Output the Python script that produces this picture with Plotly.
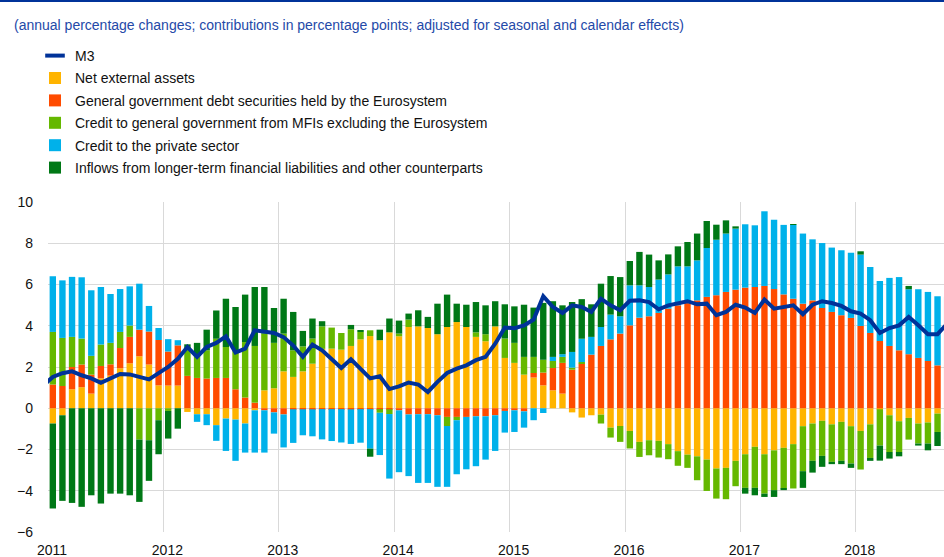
import plotly.graph_objects as go

# monthly observations, Jan 2011 .. Oct 2018 (M3 also has Dec 2010, cut off at the left edge)
first_year, first_month = 2011, 1

m3 = [1.1,  # Dec 2010
      1.52, 1.7, 1.79, 1.6, 1.45, 1.23, 1.42, 1.66, 1.64, 1.5, 1.4, 1.7,
      2.0, 2.4, 2.97, 2.49, 2.97, 3.17, 3.49, 2.7, 2.89, 3.78, 3.73, 3.65,
      3.45, 3.04, 2.49, 3.09, 2.81, 2.36, 1.95, 2.37, 1.9, 1.45, 1.55, 0.93,
      1.06, 1.25, 1.15, 0.79, 1.28, 1.71, 1.92, 2.08, 2.33, 2.49, 3.13, 3.91,
      3.88, 4.02, 4.3, 5.43, 4.91, 4.62, 4.99, 4.91, 4.67, 5.31, 4.99, 4.75,
      5.21, 5.23, 5.15, 4.8, 4.99, 5.07, 5.19, 5.04, 5.07, 4.51, 4.67, 5.02,
      4.88, 4.62, 5.27, 4.83, 4.91, 4.99, 4.56, 5.02, 5.19, 5.1, 4.96, 4.7,
      4.59, 4.27, 3.65, 3.89, 4.02, 4.43, 4.02, 3.59, 3.59, 4.1]

net_external = [-0.74, -0.34, 0.92, 1.02, 0.71, 1.45, 1.58, 1.94, 2.18, 2.52, 2.12, 1.11,
                1.1, 1.1, -0.18, -0.29, -0.29, -0.82, -0.5, -0.55, -0.74, -0.1, 0.87, 0.97,
                1.79, 1.52, 1.79, 2.16, 2.88, 2.89, 2.84, 3.02, 3.34, 3.5, 3.3, 3.68,
                3.49, 3.94, 3.97, 3.89, 3.59, 3.94, 4.18, 3.94, 3.46, 3.25, 3.97, 2.44,
                2.2, 1.63, 1.49, 1.11, 0.87, 0.71, -0.2, -0.45, -0.34, -0.31, -0.94, -0.86,
                -1.1, -1.63, -1.55, -1.58, -1.74, -2.08, -2.25, -2.33, -2.49, -2.92, -2.89, -2.55,
                -2.23, -1.87, -2.23, -2.04, -1.92, -1.74, -0.87, -0.74, -0.61, -0.78, -0.66, -0.87,
                -1.1, -0.78, -0.05, -0.34, -0.63, -0.47, -0.74, -0.69, -0.26, 0.2]

gg_eurosystem = [1.15, 1.08, 1.08, 1.1, 0.92, 0.6, 0.55, 0.98, 1.28, 1.29, 1.6, 2.2,
                 1.65, 1.95, 1.57, 1.47, 1.44, 1.47, 1.47, 0.92, 0.52, 0.27, -0.1, -0.2,
                 -0.3, -0.05, -0.05, -0.05, -0.04, -0.04, -0.04, -0.05, -0.04, -0.04, -0.04, -0.05,
                 -0.1, -0.3, -0.29, -0.29, -0.34, -0.42, -0.42, -0.42, -0.39, -0.39, -0.34, -0.13,
                 -0.1, -0.15, 0.22, 0.62, 1.08, 1.49, 1.87, 2.16, 2.6, 3.02, 3.34, 3.62,
                 4.02, 4.39, 4.46, 4.62, 4.83, 4.99, 5.1, 5.23, 5.4, 5.48, 5.64, 5.75,
                 5.85, 5.88, 5.93, 5.78, 5.52, 5.31, 5.07, 5.23, 4.86, 4.67, 4.51, 4.38,
                 3.99, 3.65, 3.26, 3.02, 2.81, 2.62, 2.44, 2.29, 2.08, 1.9]

gg_mfis = [2.55, 2.33, 1.46, 1.26, 0.91, 1.04, 1.04, 0.78, 0.55, -1.52, -1.55, -0.58,
           -0.13, 0.0, 1.33, 1.1, 1.37, 1.9, 1.5, 1.9, 2.69, 2.75, 2.75, 2.2,
           1.83, 1.29, 1.21, 1.22, 1.09, 1.02, 0.81, 0.81, 0.36, 0.28, -0.18, -0.23,
           0.13, 0.36, 0.0, 0.0, 0.0, -0.44, -0.16, 0.0, 0.22, 0.34, 0.0, 0.94,
           0.97, 0.86, 0.78, 0.62, 0.34, 0.29, 0.1, 0.08, 0.0, -0.43, -0.48, -0.77,
           -0.85, -0.73, -0.73, -0.81, -0.73, -0.71, -0.64, -1.16, -1.52, -1.46, -1.52, -1.23,
           -1.63, -1.99, -1.91, -1.93, -1.97, -2.15, -2.18, -1.81, -1.7, -1.82, -1.89, -1.81,
           -1.87, -1.63, -1.76, -1.78, -1.49, -1.05, -0.97, -1.02, -0.89, -0.7]

private_credit = [2.7, 2.79, 2.91, 2.97, 3.18, 2.79, 2.37, 2.08, 1.9, 2.23, 1.24, 0.58,
                  0.6, 0.25, 0.0, -0.37, -0.53, -0.76, -1.57, -2.0, -1.41, -2.05, -2.05, -1.03,
                  -1.6, -1.63, -1.26, -1.31, -1.47, -1.55, -1.62, -1.68, -1.63, -1.92, -2.05, -3.13,
                  -3.0, -2.99, -3.33, -3.33, -3.47, -2.95, -2.62, -2.54, -2.42, -2.1, -1.73, -1.05,
                  -1.05, -0.79, -0.58, -0.23, 0.2, 0.13, 0.76, 1.13, 0.86, 0.92, 1.2, 0.84,
                  1.94, 1.57, 1.42, 1.62, 1.66, 1.89, 1.78, 1.94, 2.37, 2.69, 2.83, 2.96,
                  3.07, 2.99, 3.62, 3.36, 3.37, 3.58, 3.4, 2.96, 3.15, 3.12, 3.15, 3.16,
                  3.46, 3.2, 2.91, 3.3, 3.55, 3.15, 3.33, 3.35, 3.35, 3.3]

inflows = [-4.12, -4.15, -4.59, -4.78, -4.22, -4.62, -4.14, -4.14, -4.22, -3.02, -1.97, -1.65,
           -1.34, -0.99, 0.2, 0.6, 1.0, 1.37, 2.34, 2.09, 2.3, 2.86, 2.26, 1.69,
           1.69, 1.86, 0.75, 0.97, 0.25, 0.0, 0.0, 0.21, 0.08, -0.39, 0.51, 0.67,
           0.63, 0.29, 0.78, 0.54, 1.48, 1.57, 0.89, 1.08, 1.47, 1.4, 1.22, 1.66,
           1.77, 2.53, 2.39, 2.76, 2.7, 2.37, 2.42, 1.92, 1.58, 2.1, 1.87, 1.9,
           1.18, 1.62, 1.57, 0.93, 0.97, 0.97, 1.18, 1.3, 1.31, 0.73, 0.64, 0.11,
           -0.28, -0.36, -0.16, -0.33, -0.08, 0.03, -0.81, -0.57, -0.53, -0.11, -0.16, -0.21,
           0.16, -0.14, -0.73, -0.32, -0.21, 0.16, -0.1, -0.33, -0.68, -0.8]

year_ticks = [2011, 2012, 2013, 2014, 2015, 2016, 2017, 2018]
y_ticks = [-6, -4, -2, 0, 2, 4, 6, 8, 10]

series = [
    ('Net external assets', net_external, '#FFB400'),
    ('General government debt securities held by the Eurosystem', gg_eurosystem, '#FF4B00'),
    ('Credit to general government from MFIs excluding the Eurosystem', gg_mfis, '#65B800'),
    ('Credit to the private sector', private_credit, '#00B1EA'),
    ('Inflows from longer-term financial liabilities and other counterparts', inflows, '#007816'),
]


def month_pos(i):
    # centre of month i counted from the first month, in fractional years
    return first_year + (first_month - 1 + i + 0.5) / 12


bar_x = [month_pos(i) for i in range(len(net_external))]
line_x = [month_pos(i) for i in range(-1, len(m3) - 1)]

W, H = 944, 557
L, R, T, B = 48, 0, 202, 25
pw, ph = W - L - R, H - T - B
px_per_year = 115.4


def px(x):
    return (x - L) / pw


def py(y):
    return (H - B - y) / ph


fig = go.Figure()
fig.add_trace(go.Scatter(x=line_x, y=m3, mode='lines', name='M3', showlegend=False,
                         legendgroup='m3', line=dict(color='#003299', width=4)))
# short thick dash as the legend key for M3
fig.add_trace(go.Scatter(x=[None], y=[None], mode='markers', name='M3', legendgroup='m3',
                         marker=dict(symbol='line-ew', size=14, color='#003299',
                                     line=dict(color='#003299', width=4))))
for name, vals, col in series:
    fig.add_trace(go.Bar(x=bar_x, y=vals, name=name, marker_color=col, legendgroup=name,
                         marker_line_width=0, width=6.4 / px_per_year))

fig.update_layout(
    width=W, height=H,
    barmode='relative',
    plot_bgcolor='white', paper_bgcolor='white',
    margin=dict(l=L, r=R, t=T, b=B),
    font=dict(family='Liberation Sans, Arial, sans-serif', size=14, color='#111111'),
    xaxis=dict(
        range=[first_year, first_year + pw / px_per_year],
        tickvals=year_ticks, ticktext=[str(y) for y in year_ticks],
        showgrid=True, gridcolor='#D9D9D9', gridwidth=1,
        zeroline=False, showline=False, ticks='',
        ticklabelshift=4, ticklabelstandoff=8,
    ),
    yaxis=dict(
        range=[-6, 10], tickvals=y_ticks,
        showgrid=True, gridcolor='#D9D9D9', gridwidth=1,
        zeroline=False, showline=False, ticks='',
        ticklabelstandoff=14,
    ),
    legend=dict(
        x=px(35), y=py(40), xanchor='left', yanchor='top',
        bgcolor='rgba(0,0,0,0)', borderwidth=0,
        font=dict(size=14, color='#111111'),
        traceorder='grouped', tracegroupgap=1.2,
    ),
    showlegend=True,
)

fig.add_annotation(
    x=px(12), y=py(25), xref='paper', yref='paper',
    xanchor='left', yanchor='middle', showarrow=False,
    text='(annual percentage changes; contributions in percentage points; '
         'adjusted for seasonal and calendar effects)',
    font=dict(size=14, color='#2449A8'),
)
fig.add_shape(type='line', xref='paper', yref='paper',
              x0=px(0), x1=px(W), y0=py(1), y1=py(1),
              line=dict(color='#003299', width=2))

fig.write_html("out.html", config={'displayModeBar': False},
               post_script="document.body.style.margin='0';")
